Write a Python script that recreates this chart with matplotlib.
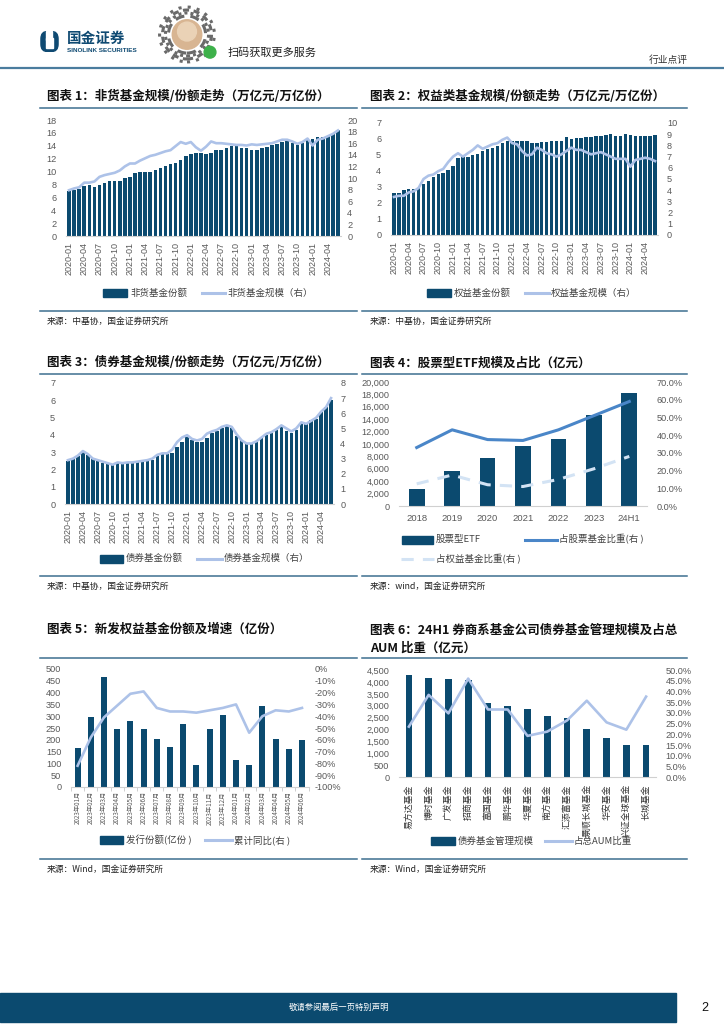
import numpy as np
import pandas as pd
import matplotlib.pyplot as plt
from matplotlib.patches import Rectangle, Circle, FancyBboxPatch
from matplotlib.lines import Line2D
from matplotlib.ticker import FuncFormatter

plt.rcParams['font.family'] = ['Liberation Sans', 'Noto Sans CJK SC', 'DejaVu Sans']
plt.rcParams['axes.unicode_minus'] = False

NAVY = '#0b4a6f'
PALE = '#adc2e8'
RULE = '#3d6f90'
GRAY = '#595959'
CJK = ['Noto Sans CJK SC', 'DejaVu Sans']

### data

months = pd.date_range('2020-01-01', periods=54, freq='MS').strftime('%Y-%m').tolist()

# 图表1 非货基金 (万亿份 / 万亿元)
nonmm_shares = [7.0, 7.1, 7.3, 7.7, 7.9, 7.6, 7.9, 8.2, 8.5, 8.6, 8.6, 9.0,
                9.1, 9.8, 9.9, 10.0, 10.0, 10.3, 10.6, 10.9, 11.2, 11.3, 11.8, 12.4,
                12.8, 12.9, 12.9, 12.8, 12.9, 13.4, 13.4, 13.6, 14.0, 14.0, 13.7, 13.7,
                13.3, 13.3, 13.7, 13.8, 14.1, 14.3, 14.6, 14.7, 14.4, 14.1, 14.4, 15.1,
                15.0, 15.3, 15.3, 15.5, 15.8, 16.4]
nonmm_aum = [7.9, 8.2, 8.4, 9.2, 9.2, 9.4, 10.2, 10.5, 10.7, 10.9, 11.3, 12.0,
             12.5, 12.5, 13.0, 13.4, 13.8, 14.0, 14.3, 14.6, 14.8, 15.5, 16.2, 15.9,
             16.2, 15.3, 14.7, 15.4, 16.3, 16.0, 16.0, 15.9, 15.8, 15.7, 15.7, 15.6,
             15.8, 15.7, 15.8, 15.9, 16.0, 16.3, 16.6, 16.6, 16.3, 15.9, 16.2, 16.8,
             15.6, 16.6, 16.8, 17.2, 17.6, 18.2]

# 图表2 权益类基金
equity_shares = [2.6, 2.65, 2.8, 2.85, 2.9, 2.95, 3.2, 3.35, 3.65, 3.8, 3.9, 4.05,
                 4.3, 4.8, 4.9, 4.85, 5.0, 5.05, 5.25, 5.4, 5.45, 5.55, 5.75, 5.85,
                 5.9, 5.9, 5.9, 5.85, 5.75, 5.75, 5.8, 5.8, 5.85, 5.9, 5.9, 6.15,
                 6.0, 6.05, 6.05, 6.1, 6.15, 6.2, 6.2, 6.25, 6.3, 6.2, 6.2, 6.3,
                 6.25, 6.2, 6.2, 6.2, 6.2, 6.25]
equity_aum = [3.4, 3.5, 3.5, 3.8, 3.9, 4.2, 5.0, 5.3, 5.4, 5.7, 5.9, 6.5,
              7.0, 7.3, 7.0, 7.3, 7.6, 8.0, 7.7, 7.9, 8.1, 8.2, 8.5, 8.7,
              8.2, 8.1, 7.5, 7.1, 7.2, 7.8, 7.6, 7.3, 7.2, 7.0, 7.2, 7.5,
              7.8, 7.6, 7.6, 7.4, 7.2, 7.3, 7.4, 7.2, 7.0, 6.8, 6.8, 6.8,
              6.1, 6.7, 6.8, 6.9, 6.8, 6.6]

# 图表3 债券基金
bond_shares = [2.5, 2.65, 2.8, 3.05, 2.85, 2.6, 2.5, 2.4, 2.3, 2.25, 2.4, 2.35,
               2.4, 2.4, 2.45, 2.45, 2.5, 2.55, 2.8, 2.95, 2.9, 2.95, 3.3, 3.6,
               3.85, 3.7, 3.6, 3.6, 3.8, 4.1, 4.2, 4.4, 4.5, 4.4, 3.95, 3.7,
               3.5, 3.5, 3.6, 3.8, 4.0, 4.1, 4.3, 4.5, 4.2, 4.1, 4.3, 4.75,
               4.6, 4.85, 4.9, 5.3, 5.6, 6.0]
bond_aum = [2.9, 3.0, 3.2, 3.5, 3.3, 3.0, 2.9, 2.8, 2.7, 2.6, 2.75, 2.7,
            2.75, 2.75, 2.8, 2.85, 2.9, 3.0, 3.25, 3.35, 3.35, 3.6, 4.1, 4.4,
            4.55, 4.3, 4.2, 4.3, 4.65, 4.8, 4.9, 5.1, 5.2, 5.1, 4.6, 4.2,
            4.0, 4.0, 4.15, 4.4, 4.65, 4.75, 4.95, 5.2, 5.0, 4.8, 5.0, 5.4,
            5.3, 5.5, 5.7, 6.1, 6.4, 7.0]

# 图表4 股票型ETF
etf_years = ['2018', '2019', '2020', '2021', '2022', '2023', '24H1']
etf_size = [2800, 5600, 7800, 9700, 10800, 14600, 18300]
etf_stock_ratio = [0.33, 0.43, 0.375, 0.37, 0.43, 0.51, 0.59]
etf_equity_ratio = [0.125, 0.175, 0.12, 0.11, 0.15, 0.21, 0.28]

# 图表5 新发权益基金
new_months = ['2023年01月', '2023年02月', '2023年03月', '2023年04月', '2023年05月', '2023年06月',
              '2023年07月', '2023年08月', '2023年09月', '2023年10月', '2023年11月', '2023年12月',
              '2024年01月', '2024年02月', '2024年03月', '2024年04月', '2024年05月', '2024年06月']
new_issue = [167, 295, 465, 245, 280, 245, 205, 170, 268, 95, 245, 307,
             115, 95, 345, 205, 160, 200]
new_yoy = [-0.82, -0.58, -0.41, -0.31, -0.21, -0.19, -0.33, -0.36, -0.36, -0.37, -0.35, -0.33,
           -0.30, -0.54, -0.40, -0.35, -0.36, -0.33]

# 图表6 券商系基金公司债券基金
companies = ['易方达基金', '博时基金', '广发基金', '招商基金', '富国基金', '鹏华基金', '华夏基金',
             '南方基金', '汇添富基金', '景顺长城基金', '华安基金', '兴证全球基金', '长城基金']
bond_mgmt = [4270, 4160, 4110, 4070, 3120, 2975, 2850, 2585, 2475, 2010, 1660, 1355, 1355]
aum_share = [0.236, 0.384, 0.298, 0.46, 0.316, 0.316, 0.193, 0.213, 0.265, 0.357, 0.256, 0.222, 0.376]

### helpers (pixel coords, y from top)

W, H = 724, 1024
fig = plt.figure(figsize=(7.24, 10.24), dpi=100)


def box(x0, y0, x1, y1):
    return [x0 / W, 1 - y1 / H, (x1 - x0) / W, (y1 - y0) / H]


def txt(x, y, s, **kw):
    fig.text(x / W, 1 - y / H, s, **kw)


def hline(x0, x1, y, color=RULE, lw=1.1, ls='-', dashes=None):
    ln = Line2D([x0 / W, x1 / W], [1 - y / H, 1 - y / H], color=color, lw=lw, ls=ls)
    if dashes:
        ln.set_dashes(dashes)
    fig.add_artist(ln)


def leg_patch(x0, x1, y, label):
    fig.add_artist(Rectangle((x0 / W, 1 - (y + 4) / H), (x1 - x0) / W, 8 / H,
                             transform=fig.transFigure, color=NAVY))
    txt(x1 + 3, y, label, fontsize=6.8, color='#404040', va='center', family=CJK)


def leg_line(x0, x1, y, label, color=PALE, lw=2.2, dashes=None):
    hline(x0, x1, y, color=color, lw=lw, dashes=dashes)
    txt(x1 + 2, y, label, fontsize=6.8, color='#404040', va='center', family=CJK)


def clean(ax, keep_bottom=True):
    for s in ['top', 'left', 'right']:
        ax.spines[s].set_visible(False)
    if keep_bottom:
        ax.spines['bottom'].set_color('#d0d0d0')
        ax.spines['bottom'].set_linewidth(0.8)
    else:
        ax.spines['bottom'].set_visible(False)


def title(x, y, s):
    txt(x, y, s, fontsize=9, fontweight='bold', va='center', family=CJK, color='#111111')


def source(x, y, s):
    txt(x, y, s, fontsize=6.3, va='center', family=CJK, color='#222222')


def monthly_chart(rect, shares, aum, lmax, lstep, rmax, rstep, lpad, rpad):
    ax = fig.add_axes(box(*rect))
    x = np.arange(len(months))
    ax.bar(x, shares, width=0.7, color=NAVY, zorder=2)
    ax.set_xlim(-0.6, len(months) - 0.4)
    ax.set_ylim(0, lmax)
    ax.set_yticks(np.arange(0, lmax + 0.01, lstep))
    ax.set_yticklabels([f'{v:g}' for v in np.arange(0, lmax + 0.01, lstep)])
    ax.set_xticks(x[::3])
    ax.set_xticklabels(months[::3], rotation=90, fontsize=6.5, color=GRAY)
    ax.tick_params(axis='x', length=0, pad=4)
    ax.tick_params(axis='y', length=0, pad=lpad, labelsize=6.6, labelcolor=GRAY)
    clean(ax)
    ax2 = ax.twinx()
    ax2.plot(x, aum, color=PALE, lw=1.9, zorder=3, solid_joinstyle='round')
    ax2.set_xlim(-0.6, len(months) - 0.4)
    ax2.set_ylim(0, rmax)
    rt = np.arange(0, rmax + 0.01, rstep)
    ax2.set_yticks(rt)
    ax2.set_yticklabels([f'{v:g}' for v in rt])
    ax2.tick_params(axis='y', length=0, pad=rpad, labelsize=6.6, labelcolor=GRAY)
    for s in ax2.spines.values():
        s.set_visible(False)
    return ax, ax2


### header

lg = fig.add_axes(box(40, 31, 59, 52))
lg.set_xlim(0, 1)
lg.set_ylim(0, 1)
lg.axis('off')
lg.add_patch(FancyBboxPatch((0.05, 0.02), 0.9, 0.96, boxstyle='round,pad=0,rounding_size=0.35',
                            color='#0f4a72'))
lg.add_patch(Rectangle((0.32, 0.55), 0.3, 0.45, color='white'))
lg.add_patch(Rectangle((0.32, 0.2), 0.36, 0.45, color='white'))
txt(67, 38, '国金证券', fontsize=10.5, fontweight='bold', color='#0f4a72', va='center', family=CJK)
txt(67, 50, 'SINOLINK SECURITIES', fontsize=4.6, fontweight='bold', color='#0f4a72', va='center')

qr = fig.add_axes(box(157, 5, 217, 64))
qr.set_xlim(-1, 1)
qr.set_ylim(-1, 1)
qr.set_aspect('equal')
qr.axis('off')
for r, d in [(0.93, (1, 2)), (0.83, (2, 1.5)), (0.73, (1, 1)), (0.63, (3, 2))]:
    c = Circle((0, 0), r, fill=False, ec='#6a6a6a', lw=2.2)
    c.set_linestyle((0, d))
    qr.add_patch(c)
qr.add_patch(Circle((0, 0), 0.5, color='#d8b592'))
qr.add_patch(Circle((0, 0.1), 0.32, color='#ead2b6'))
qr.add_patch(Circle((0.78, -0.6), 0.2, color='#3db14a'))
txt(228, 52.5, '扫码获取更多服务', fontsize=8, color='#222222', va='center', family=CJK)
txt(688, 60, '行业点评', fontsize=7, color='#333333', va='center', ha='right', family=CJK)
hline(0, 724, 67.5, color='#4a7c9e', lw=1.6)

### chart 1
title(47, 96.5, '图表 1：非货基金规模/份额走势（万亿元/万亿份）')
hline(40, 357, 107.5)
monthly_chart((66, 120, 341, 236), nonmm_shares, nonmm_aum, 18, 2, 20, 2, 7, 4.5)
leg_patch(103, 127, 293, '非货基金份额')
leg_line(202, 225, 293, '非货基金规模（右）')
hline(40, 357, 310.5)
source(47, 321, '来源：中基协，国金证券研究所')

### chart 2
title(370, 96.5, '图表 2：权益类基金规模/份额走势（万亿元/万亿份）')
hline(362, 687, 107.5)
monthly_chart((391, 123, 658, 235), equity_shares, equity_aum, 7, 1, 10, 1, 7, 6.5)
leg_patch(427, 451, 293, '权益基金份额')
leg_line(525, 549, 293, '权益基金规模（右）')
hline(362, 687, 310.5)
source(370, 321, '来源：中基协，国金证券研究所')

### chart 3
title(47, 363, '图表 3：债券基金规模/份额走势（万亿元/万亿份）')
hline(40, 357, 373.5)
monthly_chart((65, 383, 334, 504), bond_shares, bond_aum, 7, 1, 8, 1, 7, 4.5)
leg_patch(100, 123, 558.5, '债券基金份额')
leg_line(197, 222, 558.5, '债券基金规模（右）')
hline(40, 357, 576)
source(47, 586, '来源：中基协，国金证券研究所')

### chart 4
title(370, 363, '图表 4：股票型ETF规模及占比（亿元）')
hline(362, 687, 373.5)
ax4 = fig.add_axes(box(399, 382, 647, 506))
x4 = np.arange(len(etf_years))
ax4.bar(x4, etf_size, width=0.44, color=NAVY, zorder=2)
ax4.set_xlim(-0.5, len(etf_years) - 0.5)
ax4.set_ylim(0, 20000)
ax4.set_yticks(np.arange(0, 20001, 2000))
ax4.yaxis.set_major_formatter(FuncFormatter(lambda v, p: f'{v:,.0f}'))
ax4.set_xticks(x4)
ax4.set_xticklabels(etf_years, fontsize=6.8, color=GRAY)
ax4.tick_params(axis='x', length=0, pad=6)
ax4.tick_params(axis='y', length=0, pad=7, labelsize=6.6, labelcolor=GRAY)
clean(ax4)
ax4b = ax4.twinx()
ax4b.plot(x4, etf_stock_ratio, color='#4a86c8', lw=2.2, zorder=3)
dl, = ax4b.plot(x4, etf_equity_ratio, color='#d3e3f4', lw=2.2, zorder=3)
dl.set_dashes((4, 3))
ax4b.set_ylim(0, 0.7)
ax4b.set_yticks(np.arange(0, 0.701, 0.1))
ax4b.yaxis.set_major_formatter(FuncFormatter(lambda v, p: f'{v * 100:.1f}%'))
ax4b.tick_params(axis='y', length=0, pad=7, labelsize=6.6, labelcolor=GRAY)
for s in ax4b.spines.values():
    s.set_visible(False)
leg_patch(402, 433, 539.5, '股票型ETF')
leg_line(525, 557, 539.5, '占股票基金比重(右 )', color='#4a86c8')
leg_line(401, 434, 559, '占权益基金比重(右 )', color='#d3e3f4', dashes=(4, 3))
hline(362, 687, 576)
source(370, 586, '来源：wind，国金证券研究所')

### chart 5
title(47, 629, '图表 5：新发权益基金份额及增速（亿份）')
hline(40, 357, 657.5)
ax5 = fig.add_axes(box(71, 669, 308.6, 787))
x5 = np.arange(len(new_months))
ax5.bar(x5, new_issue, width=0.45, color=NAVY, zorder=2)
ax5.set_xlim(-0.5, len(new_months) - 0.5)
ax5.set_ylim(0, 500)
ax5.set_yticks(np.arange(0, 501, 50))
ax5.set_xticks(x5)
ax5.set_xticklabels(new_months, rotation=90, fontsize=4.5, color=GRAY, family=CJK)
ax5.set_xticks(np.arange(-0.5, len(new_months), 1), minor=True)
ax5.tick_params(axis='x', which='major', length=0, pad=3)
ax5.tick_params(axis='x', which='minor', length=3, color='#c8c8c8', width=0.6)
ax5.tick_params(axis='y', length=0, pad=7, labelsize=6.6, labelcolor=GRAY)
clean(ax5)
ax5b = ax5.twinx()
ax5b.plot(x5, new_yoy, color=PALE, lw=1.9, zorder=3)
ax5b.set_ylim(-1, 0)
ax5b.set_yticks(np.round(np.arange(-1, 0.001, 0.1), 2))
ax5b.yaxis.set_major_formatter(FuncFormatter(lambda v, p: f'{round(v * 100):.0f}%'))
ax5b.tick_params(axis='y', length=0, pad=4, labelsize=6.6, labelcolor=GRAY)
for s in ax5b.spines.values():
    s.set_visible(False)
leg_patch(100, 123, 840, '发行份额(亿份 )')
leg_line(205, 232, 840, '累计同比(右 )')
hline(40, 357, 859)
source(47, 869, '来源：Wind，国金证券研究所')

### chart 6
title(370, 630, '图表 6：24H1 券商系基金公司债券基金管理规模及占总')
title(370, 648.5, 'AUM 比重（亿元）')
hline(362, 687, 657.5)
ax6 = fig.add_axes(box(399, 670, 656, 777.3))
x6 = np.arange(len(companies))
ax6.bar(x6, bond_mgmt, width=0.34, color=NAVY, zorder=2)
ax6.set_xlim(-0.5, len(companies) - 0.5)
ax6.set_ylim(0, 4500)
ax6.set_yticks(np.arange(0, 4501, 500))
ax6.yaxis.set_major_formatter(FuncFormatter(lambda v, p: f'{v:,.0f}'))
ax6.set_xticks(x6)
ax6.set_xticklabels(companies, rotation=90, fontsize=6.4, color='#333333', family=CJK)
ax6.tick_params(axis='x', length=0, pad=5)
ax6.tick_params(axis='y', length=0, pad=7, labelsize=6.6, labelcolor=GRAY)
clean(ax6)
ax6b = ax6.twinx()
ax6b.plot(x6, aum_share, color=PALE, lw=1.9, zorder=3)
ax6b.set_ylim(0, 0.5)
ax6b.set_yticks(np.round(np.arange(0, 0.501, 0.05), 2))
ax6b.yaxis.set_major_formatter(FuncFormatter(lambda v, p: f'{v * 100:.1f}%'))
ax6b.tick_params(axis='y', length=0, pad=7, labelsize=6.6, labelcolor=GRAY)
for s in ax6b.spines.values():
    s.set_visible(False)
leg_patch(431, 455, 841, '债券基金管理规模')
leg_line(545, 572, 841, '占总AUM比重')
hline(362, 687, 859)
source(370, 869, '来源：Wind，国金证券研究所')

### footer

fig.add_artist(Rectangle((0, 1 - 1022 / H), 676 / W, 29 / H, transform=fig.transFigure,
                         color=NAVY))
txt(339, 1007.5, '敬请参阅最后一页特别声明', fontsize=6, color='white', ha='center', va='center',
    family=CJK)
txt(705, 1008, '2', fontsize=9, color='#111111', ha='center', va='center')

fig.savefig('out.png', dpi=100)
